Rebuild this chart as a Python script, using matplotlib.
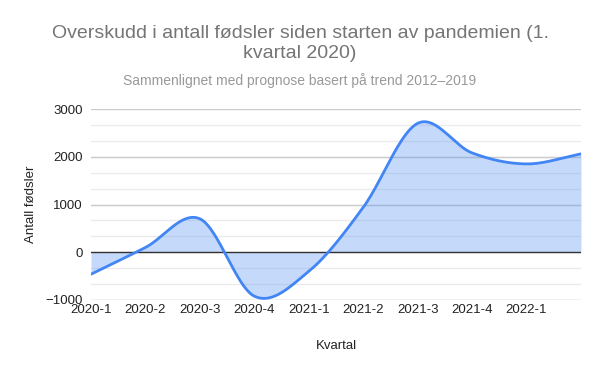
import numpy as np
import matplotlib
matplotlib.use("Agg")
import matplotlib.pyplot as plt

quarters = ["2020-1", "2020-2", "2020-3", "2020-4", "2021-1", "2021-2",
            "2021-3", "2021-4", "2022-1", "2022-2"]
values = [-460, 100, 700, -920, -400, 940, 2700, 2080, 1850, 2060]
tick_labels = quarters[:-1]

plt.rcParams['font.family'] = ['Liberation Sans', 'DejaVu Sans']

fig = plt.figure(figsize=(6, 3.71), dpi=100)
ax = fig.add_axes([91/600, 1-300/371, 490/600, 191/371])

x = np.arange(len(values), dtype=float)
y = np.array(values, dtype=float)

# smooth curve through data (cubic Hermite, Catmull-Rom tangents)
m = np.zeros_like(y)
m[1:-1] = (y[2:] - y[:-2]) / 2
m[0] = y[1] - y[0]
m[-1] = y[-1] - y[-2]
xs, ys = [], []
for i in range(len(y) - 1):
    t = np.linspace(0, 1, 40, endpoint=(i == len(y) - 2))
    h00 = 2*t**3 - 3*t**2 + 1
    h10 = t**3 - 2*t**2 + t
    h01 = -2*t**3 + 3*t**2
    h11 = t**3 - t**2
    xs.append(x[i] + t)
    ys.append(h00*y[i] + h10*m[i] + h01*y[i+1] + h11*m[i+1])
xs = np.concatenate(xs)
ys = np.concatenate(ys)

ax.set_xlim(0, len(values) - 1)
ax.set_ylim(-1000, 3000)

# gridlines
for v in np.arange(-1000, 3000, 1000/3):
    ax.axhline(v, color="#ebebeb", lw=1, zorder=0)
for v in [-1000, 1000, 2000, 3000]:
    ax.axhline(v, color="#cccccc", lw=1, zorder=0)

ax.fill_between(xs, ys, 0, color="#4285f4", alpha=0.3, lw=0, zorder=1)
ax.axhline(0, color="#333333", lw=1, zorder=2)
ax.plot(xs, ys, color="#4285f4", lw=2, zorder=3, solid_capstyle="round")

for s in ax.spines.values():
    s.set_visible(False)
ax.set_yticks([-1000, 0, 1000, 2000, 3000])
ax.set_yticklabels(["\u22121000", "0", "1000", "2000", "3000"])
ax.set_xticks(np.arange(len(tick_labels)))
ax.set_xticklabels(tick_labels)
ax.tick_params(axis="both", length=0, labelsize=9.5, colors="#222222")
ax.tick_params(axis="x", pad=3)
ax.tick_params(axis="y", pad=6)

ax.set_ylabel("Antall fødsler", fontsize=9.5, color="#222222", labelpad=6)
ax.set_xlabel("Kvartal", fontsize=9.5, color="#222222", labelpad=17)

fig.text(0.5, 1-33/371, "Overskudd i antall fødsler siden starten av pandemien (1.",
         ha="center", va="center", fontsize=14, color="#757575")
fig.text(0.5, 1-54/371, "kvartal 2020)", ha="center", va="center",
         fontsize=14, color="#757575")
fig.text(0.5, 1-81/371, "Sammenlignet med prognose basert på trend 2012\u20132019",
         ha="center", va="center", fontsize=10, color="#999999")

fig.savefig("out.png", dpi=100)
